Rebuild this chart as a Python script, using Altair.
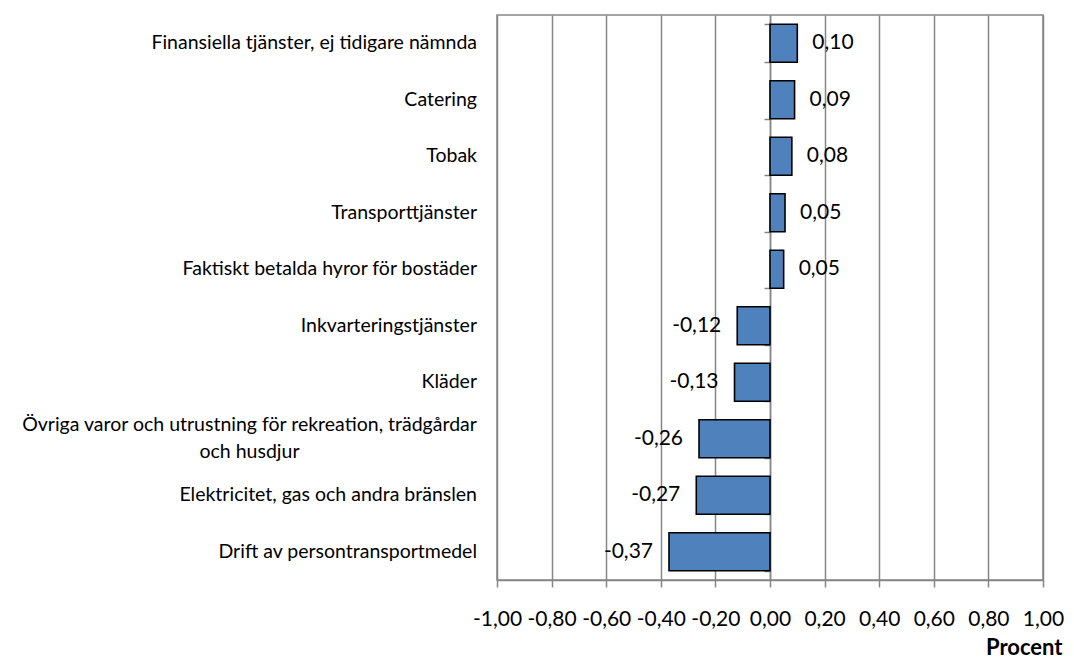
import altair as alt
import pandas as pd

categories = [
    "Finansiella tjänster, ej tidigare nämnda",
    "Catering",
    "Tobak",
    "Transporttjänster",
    "Faktiskt betalda hyror för bostäder",
    "Inkvarteringstjänster",
    "Kläder",
    "Övriga varor och utrustning för rekreation, trädgårdar\noch husdjur",
    "Elektricitet, gas och andra bränslen",
    "Drift av persontransportmedel",
]
values = [0.10, 0.09, 0.08, 0.055, 0.05, -0.12, -0.13, -0.26, -0.27, -0.37]
labels = ["0,10", "0,09", "0,08", "0,05", "0,05", "-0,12", "-0,13", "-0,26", "-0,27", "-0,37"]
tick_values = [-1.0, -0.8, -0.6, -0.4, -0.2, 0.0, 0.2, 0.4, 0.6, 0.8, 1.0]

df = pd.DataFrame({"category": categories, "value": values, "label": labels})

GRID = "#868686"
FONT = "Lato"
W, H = 546, 565

y_enc = alt.Y(
    "category:N",
    sort=categories,
    scale=alt.Scale(paddingInner=0.33, paddingOuter=0.165),
    axis=alt.Axis(
        title=None, labels=False, offset=-W / 2, ticks=True, tickBand="extent",
        tickSize=6, tickColor=GRID, tickWidth=1.5, domain=True, domainColor=GRID,
        domainWidth=1.5, grid=False,
    ),
)

x_enc = alt.X(
    "value:Q",
    scale=alt.Scale(domain=[-1, 1], nice=False),
    axis=alt.Axis(
        values=tick_values,
        labelExpr="replace(replace(format(datum.value, '.2f'), '.', ','), '\u2212', '-')",
        title="Procent", titleAnchor="end", titleAlign="right", titleFont=FONT,
        titleX=W + 19,
        titleFontSize=22, titleFontWeight="bold", titleColor="black", titlePadding=8,
        labelFont=FONT, labelFontSize=21, labelColor="black", labelPadding=21,
        labelFlush=False,
        tickSize=7, tickColor=GRID, tickWidth=1.5, domainColor=GRID, domainWidth=1.5,
        grid=True, gridColor=GRID, gridWidth=1.5, labelOverlap=False,
    ),
)

base = alt.Chart(df)

bars = base.mark_bar(color="#4F81BD", stroke="black", strokeWidth=1.6).encode(x=x_enc, y=y_enc)

pos_lbl = base.transform_filter("datum.value >= 0").mark_text(
    align="left", baseline="middle", dx=15, font=FONT, fontSize=21, color="black"
).encode(x="value:Q", y=alt.Y("category:N", sort=categories), text="label:N")

neg_lbl = base.transform_filter("datum.value < 0").mark_text(
    align="right", baseline="middle", dx=-16, font=FONT, fontSize=21, color="black"
).encode(x="value:Q", y=alt.Y("category:N", sort=categories), text="label:N")

cat_single = base.transform_filter("indexof(datum.category, '\\n') < 0").mark_text(
    align="right", baseline="middle", font=FONT, fontSize=19.5, color="black"
).encode(x=alt.value(-20), y=alt.Y("category:N", sort=categories), text="category:N")

cat_multi = base.transform_filter("indexof(datum.category, '\\n') >= 0").transform_calculate(
    lines="split(datum.category, '\\n')"
).mark_text(
    align="center", baseline="middle", font=FONT, fontSize=19.5, color="black",
    lineHeight=27, dy=-13.5,
).encode(x=alt.value(-247.5), y=alt.Y("category:N", sort=categories), text="lines:N")

chart = alt.layer(bars, pos_lbl, neg_lbl, cat_single, cat_multi).properties(
    width=W, height=H,
    autosize=alt.AutoSizeParams(type="none"),
    padding={"left": 489, "top": 7, "right": 23, "bottom": 79},
    background="white",
).configure_view(stroke=GRID, strokeWidth=1.5)

chart.save("out.html", embed_options={"renderer": "svg", "actions": False})
